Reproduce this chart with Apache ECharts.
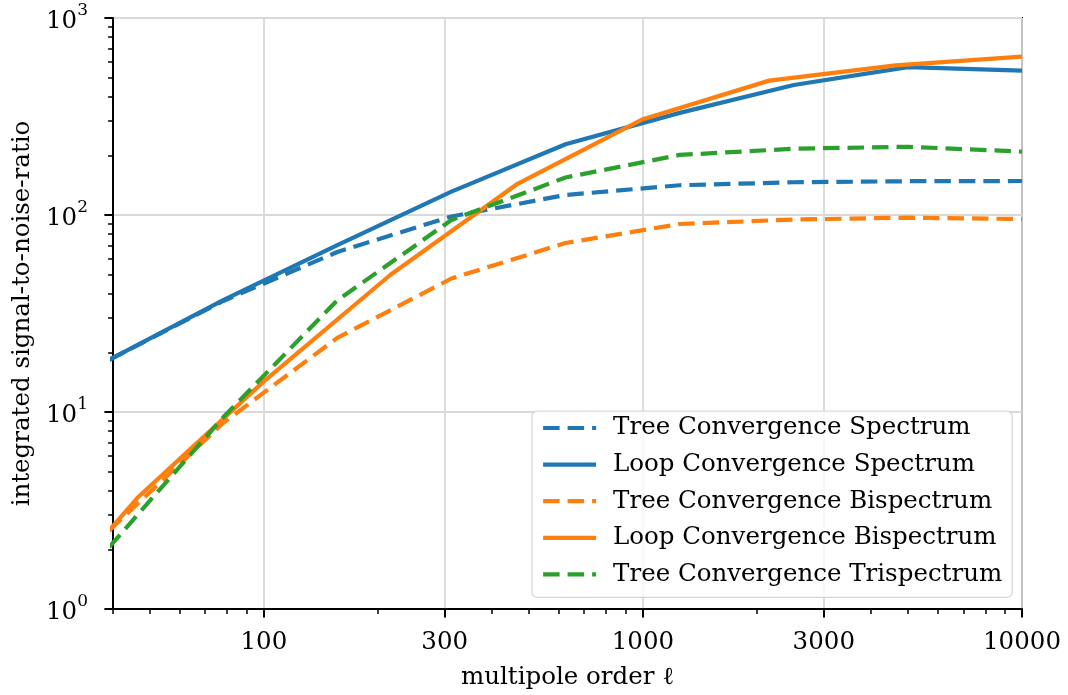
<!DOCTYPE html>
<html><head><meta charset="utf-8">
<script src="https://cdn.jsdelivr.net/npm/echarts@6/dist/echarts.min.js"></script>
<style>html,body{margin:0;padding:0;background:#fff}#chart{width:1068px;height:695px}</style>
</head><body><div id="chart"></div>
<script>
// multipole grids
const ellTree = [39.0625, 78.125, 156.25, 312.5, 625, 1250, 2500, 5000, 10000];
const ellLoopBi = [39.0625, 46.42, 100, 215.44, 464.16, 1000, 2154.4, 4641.6, 10000];
// integrated S/N values
const treeSpectrum = [18.4, 36.6, 64.9, 98.3, 126.4, 141.6, 146.6, 148.4, 148.8];
const loopSpectrum = [18.4, 37.0, 70.4, 131.4, 228.5, 330, 457, 563, 541];
const treeBispectrum = [2.5, 8.8, 23.8, 47.6, 72.1, 90.0, 94.9, 96.9, 95.4];
const loopBispectrum = [2.5, 3.67, 14.3, 49.6, 142.9, 306.4, 481, 575, 637];
const treeTrispectrum = [2.06, 9.4, 36.9, 94.3, 155, 201.8, 217, 222, 209.8];
// ticks
const xMajorTicks = [100, 300, 1000, 3000, 10000];
const xMinorTicks = [40, 50, 60, 70, 80, 90, 200, 400, 500, 600, 700, 800, 900, 2000, 4000, 5000, 6000, 7000, 8000, 9000];
const yMajorTicks = [1, 10, 100, 1000];
const yMinorTicks = [2,3,4,5,6,7,8,9,20,30,40,50,60,70,80,90,200,300,400,500,600,700,800,900];
const seriesNames = ['Tree Convergence Spectrum', 'Loop Convergence Spectrum', 'Tree Convergence Bispectrum', 'Loop Convergence Bispectrum', 'Tree Convergence Trispectrum'];

const FONT = 'DejaVu Serif';
const FS = 24.5;
const BLUE = '#1f77b4', ORANGE = '#ff7f0e', GREEN = '#2ca02c';
const DASH = [16.5, 8];
const LW = 4.2;
const GRID = {left: 113, top: 18, width: 909, height: 591};

function pairs(xs, ys) { return xs.map((x, i) => [x, ys[i]]); }
function mkSeries(name, xs, ys, color, dashed) {
  return {
    name, type: 'line', data: pairs(xs, ys), symbol: 'none', showSymbol: false,
    clip: true, xAxisIndex: 0, yAxisIndex: 0,
    lineStyle: {color, width: LW, type: dashed ? DASH : 'solid', cap: 'butt', join: 'round'},
    itemStyle: {color}
  };
}

const chart = echarts.init(document.getElementById('chart'), null, {renderer: 'canvas'});
chart.setOption({
  animation: false,
  backgroundColor: '#fff',
  textStyle: {fontFamily: FONT},
  grid: Object.assign({show: true, borderColor: '#000', borderWidth: 2, backgroundColor: 'transparent'}, GRID),
  legend: {
    show: true, orient: 'vertical', left: 532, top: 411,
    data: seriesNames,
    itemWidth: 53, itemHeight: 28, itemGap: 8.6,
    padding: [3, 10, 9, 9],
    backgroundColor: 'rgba(255,255,255,0.8)', borderColor: 'rgba(204,204,204,0.8)', borderWidth: 1.2, borderRadius: 5,
    itemStyle: {color: 'rgba(0,0,0,0)', borderWidth: 0, opacity: 0},
    lineStyle: {width: LW},
    textStyle: {fontFamily: FONT, fontSize: FS, color: '#000', lineHeight: 28, padding: [0, 0, 0, 12]},
    selectedMode: false
  },
  xAxis: [{
    type: 'log', logBase: 10, min: 40, max: 10000, position: 'bottom',
    name: 'multipole order \u2113', nameLocation: 'middle', nameGap: 56,
    nameTextStyle: {fontFamily: FONT, fontSize: FS, color: '#000'},
    axisLine: {show: true, lineStyle: {color: '#000', width: 2}},
    axisTick: {show: true, customValues: xMajorTicks, length: 8.6, lineStyle: {color: '#000', width: 2}},
    axisLabel: {customValues: xMajorTicks, formatter: v => String(Math.round(v)), margin: 21,
      fontFamily: FONT, fontSize: FS, color: '#000'},
    splitLine: {show: true, lineStyle: {color: '#d9d9d9', width: 1.8}},
    minorTick: {show: false}, minorSplitLine: {show: false}
  }, {
    type: 'log', logBase: 10, min: 40, max: 10000, position: 'top', offset: -GRID.height,
    axisLine: {show: false},
    axisTick: {show: true, inside: true, customValues: xMinorTicks, length: 4.9, lineStyle: {color: '#000', width: 1.5}},
    axisLabel: {show: false}, splitLine: {show: false}
  }],
  yAxis: [{
    type: 'log', logBase: 10, min: 1, max: 1000, position: 'left',
    name: 'integrated signal-to-noise-ratio', nameLocation: 'middle', nameGap: 72,
    nameTextStyle: {fontFamily: FONT, fontSize: FS, color: '#000'},
    axisLine: {show: true, lineStyle: {color: '#000', width: 2}},
    axisTick: {show: true, customValues: yMajorTicks, length: 8.6, lineStyle: {color: '#000', width: 2}},
    axisLabel: {customValues: yMajorTicks, margin: 25,
      formatter: v => '{b|10}{s|' + Math.round(Math.log10(v)) + '}',
      rich: {
        b: {fontFamily: FONT, fontSize: FS, color: '#000', lineHeight: 32, verticalAlign: 'bottom'},
        s: {fontFamily: FONT, fontSize: 17, color: '#000', lineHeight: 32, verticalAlign: 'top'}
      }},
    splitLine: {show: true, lineStyle: {color: '#d9d9d9', width: 1.8}},
    minorTick: {show: false}, minorSplitLine: {show: false}
  }, {
    type: 'log', logBase: 10, min: 1, max: 1000, position: 'right', offset: -GRID.width,
    axisLine: {show: false},
    axisTick: {show: true, inside: true, customValues: yMinorTicks, length: 4.9, lineStyle: {color: '#000', width: 1.5}},
    axisLabel: {show: false}, splitLine: {show: false}
  }],
  series: [
    mkSeries(seriesNames[0], ellTree, treeSpectrum, BLUE, true),
    mkSeries(seriesNames[1], ellTree, loopSpectrum, BLUE, false),
    mkSeries(seriesNames[2], ellTree, treeBispectrum, ORANGE, true),
    mkSeries(seriesNames[3], ellLoopBi, loopBispectrum, ORANGE, false),
    mkSeries(seriesNames[4], ellTree, treeTrispectrum, GREEN, true)
  ]
});
</script></body></html>
